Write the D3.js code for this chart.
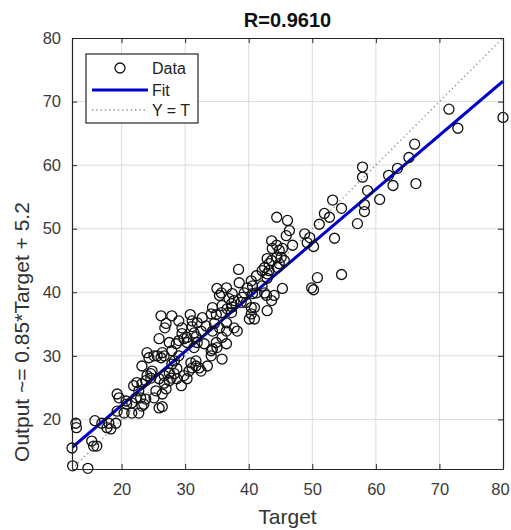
<!DOCTYPE html>
<html>
<head>
<meta charset="utf-8">
<script src="https://cdn.jsdelivr.net/npm/d3@7"></script>
<style>
  html, body { margin: 0; padding: 0; background: #fff; }
  svg { display: block; }
  text { font-family: "Liberation Sans", Arial, Helvetica, sans-serif; }
</style>
</head>
<body>
<div id="chart"></div>
<script>
// ---- data ----
const titleText = "R=0.9610";
const xLabel = "Target";
const yLabel = "Output ~= 0.85*Target + 5.2";
const xDomain = [12.2, 80];
const yDomain = [12.2, 80];
const xTicks = [20, 30, 40, 50, 60, 70, 80];
const yTicks = [20, 30, 40, 50, 60, 70, 80];
const fitSlope = 0.85;
const fitIntercept = 5.2;
const legendLabels = ["Data", "Fit", "Y = T"];

const targets = [
  80.0, 71.5, 72.9, 66.1, 65.2, 63.4, 62.0, 66.3, 62.7, 57.9, 57.9, 58.7, 60.6, 58.2, 58.2, 57.1,
  53.2, 54.6, 51.9, 52.7, 51.1, 53.5, 54.6, 50.8, 49.9, 50.2, 48.8, 49.6, 49.2, 50.2,
  44.4, 46.1, 46.4, 45.9, 43.6, 44.4, 43.7, 45.3, 46.9, 44.8, 45.1, 44.4, 42.9, 45.6, 43.2, 44.8,
  44.5, 42.5, 42.1, 43.2, 42.9, 42.9, 38.4, 41.2, 40.4, 40.6, 42.1, 41.2, 42.5, 44.0, 43.6, 42.9,
  45.3, 36.5, 35.7, 35.0, 37.4, 37.7, 36.9, 39.3, 39.0, 38.8, 39.6, 40.4, 40.4, 40.9, 40.1,
  35.8, 35.7, 36.6, 37.3, 34.3, 34.1, 34.9, 30.8, 31.1, 31.9, 32.7, 33.3, 34.6, 35.4, 34.3,
  36.5, 36.5, 37.7, 38.2, 29.5, 29.0, 35.4, 37.4, 26.2, 27.9, 27.0, 26.8, 31.1, 25.9, 27.5,
  24.0, 25.6, 26.4, 28.6, 29.0, 29.8, 30.3, 31.4, 31.7, 33.0, 34.9, 35.0, 34.1, 35.8, 31.7,
  31.1, 30.6, 29.8, 30.3, 32.2, 28.7, 28.3, 27.5, 26.7, 25.9, 24.8, 24.6, 23.8, 23.2, 22.4,
  21.9, 25.4, 25.1, 26.4, 27.0, 22.3, 21.6, 19.3, 19.6, 20.7, 20.8, 23.8, 23.5, 25.9, 26.4,
  12.2, 12.3, 14.7, 12.8, 12.9, 15.3, 15.6, 16.1, 15.8, 16.9, 17.7, 18.0, 18.3, 19.1, 19.3,
  20.4, 21.6, 23.0, 23.2, 22.7, 24.0, 24.6, 26.7, 27.8, 27.9, 23.2, 24.3, 25.1, 26.2, 26.7,
  32.5, 35.8, 36.5, 34.3, 34.1, 33.5, 29.5, 30.3, 31.9, 31.4, 27.9, 29.0, 28.3, 30.9, 31.7,
  32.5, 27.5, 28.7, 29.4, 22.7, 38.5, 39.8, 40.9, 37.3, 40.6, 42.8, 43.6
];
const outputs = [
  67.5, 68.8, 65.8, 63.3, 61.2, 59.5, 58.4, 57.1, 56.8, 59.7, 58.1, 56.0, 54.6, 53.8, 52.7, 50.8,
  54.5, 53.2, 52.4, 51.8, 50.7, 48.5, 42.8, 42.3, 40.7, 40.4, 49.2, 48.6, 47.8, 47.2,
  51.8, 51.3, 49.7, 48.9, 48.1, 47.4, 46.9, 46.9, 47.4, 46.6, 45.5, 45.5, 45.3, 45.0, 44.5, 44.5,
  43.9, 43.9, 43.4, 43.4, 42.9, 42.2, 43.6, 42.6, 41.8, 41.0, 41.0, 39.9, 39.9, 39.5, 38.7, 37.1,
  40.6, 40.7, 39.9, 40.6, 39.8, 38.7, 39.0, 39.9, 39.2, 38.4, 38.4, 37.6, 36.6, 35.8, 35.8,
  37.9, 36.8, 37.4, 36.8, 37.6, 36.6, 36.5, 36.5, 35.5, 35.2, 36.0, 34.7, 35.1, 34.4, 33.9,
  33.9, 35.2, 34.4, 33.9, 34.4, 35.5, 39.5, 37.7, 36.3, 36.3, 35.1, 34.4, 34.6, 32.7, 32.1,
  30.5, 30.0, 30.5, 31.9, 32.4, 32.7, 32.9, 33.6, 33.0, 31.9, 32.1, 31.3, 30.8, 29.5, 29.2,
  28.1, 27.6, 26.9, 26.4, 28.1, 28.0, 27.2, 27.3, 26.9, 26.4, 27.6, 26.5, 26.1, 25.6, 25.8,
  25.3, 24.5, 23.4, 24.0, 24.8, 23.4, 22.6, 24.0, 23.4, 22.9, 22.4, 23.2, 22.4, 21.8, 22.0,
  15.5, 12.7, 12.3, 19.4, 18.7, 16.6, 15.8, 15.8, 19.8, 19.4, 18.7, 19.4, 18.5, 19.4, 21.3,
  21.0, 21.0, 23.4, 22.1, 21.0, 26.9, 27.2, 25.7, 26.5, 28.7, 28.4, 29.7, 30.0, 29.7, 30.0,
  33.9, 32.9, 31.9, 31.1, 30.0, 28.4, 33.5, 32.1, 32.1, 31.3, 30.8, 30.0, 29.2, 28.9, 28.4,
  27.6, 26.1, 26.4, 25.3, 24.5, 41.5, 40.7, 37.6, 38.2, 39.8, 39.5, 45.0
];

// ---- layout ----
const W = 511, H = 530;
const margin = { left: 72, top: 38, right: 8, bottom: 61 };
const pw = W - margin.left - margin.right;
const ph = H - margin.top - margin.bottom;
const axisColor = "#262626";

const svg = d3.select("#chart").append("svg")
  .attr("width", W).attr("height", H);

const x = d3.scaleLinear().domain(xDomain).range([0, pw]);
const y = d3.scaleLinear().domain(yDomain).range([ph, 0]);

const g = svg.append("g").attr("transform", `translate(${margin.left},${margin.top})`);

svg.append("defs").append("clipPath").attr("id", "clip")
  .append("rect").attr("width", pw).attr("height", ph);

// grid
g.append("g").selectAll("line").data(xTicks.filter(t => t < xDomain[1])).join("line")
  .attr("x1", d => x(d)).attr("x2", d => x(d)).attr("y1", 0).attr("y2", ph)
  .attr("stroke", "#dcdcdc").attr("stroke-width", 1);
g.append("g").selectAll("line").data(yTicks.filter(t => t < yDomain[1])).join("line")
  .attr("y1", d => y(d)).attr("y2", d => y(d)).attr("x1", 0).attr("x2", pw)
  .attr("stroke", "#dcdcdc").attr("stroke-width", 1);

const plot = g.append("g").attr("clip-path", "url(#clip)");

// Y = T dotted line
const lo = Math.max(xDomain[0], yDomain[0]), hi = Math.min(xDomain[1], yDomain[1]);
plot.append("line")
  .attr("x1", x(lo)).attr("y1", y(lo)).attr("x2", x(hi)).attr("y2", y(hi))
  .attr("stroke", "#8a8a8a").attr("stroke-width", 1.3)
  .attr("stroke-dasharray", "1.3,3");

// data circles
const pts = targets.map((t, i) => ({ t, o: outputs[i] }));
g.append("g").selectAll("circle").data(pts).join("circle")
  .attr("cx", d => x(d.t)).attr("cy", d => y(d.o)).attr("r", 5)
  .attr("fill", "none").attr("stroke", "#111").attr("stroke-width", 1.3);

// fit line
plot.append("line")
  .attr("x1", x(xDomain[0])).attr("y1", y(fitSlope * xDomain[0] + fitIntercept))
  .attr("x2", x(xDomain[1])).attr("y2", y(fitSlope * xDomain[1] + fitIntercept))
  .attr("stroke", "#0000cc").attr("stroke-width", 3);

// axes (box with inward ticks on all sides)
const tickLen = 5;
const axB = d3.axisBottom(x).tickValues(xTicks).tickSizeInner(-tickLen).tickSizeOuter(0).tickPadding(14);
const axT = d3.axisTop(x).tickValues(xTicks).tickSizeInner(-tickLen).tickSizeOuter(0).tickFormat("");
const axL = d3.axisLeft(y).tickValues(yTicks).tickSizeInner(-tickLen).tickSizeOuter(0).tickPadding(11);
const axR = d3.axisRight(y).tickValues(yTicks).tickSizeInner(-tickLen).tickSizeOuter(0).tickFormat("");

function style(sel) {
  sel.select(".domain").attr("stroke", axisColor).attr("stroke-width", 1.2);
  sel.selectAll(".tick line").attr("stroke", axisColor).attr("stroke-width", 1);
  sel.selectAll(".tick text").attr("fill", "#3a3a3a")
    .style("font-size", "16.5px").style("font-family", "'Liberation Sans', Arial, sans-serif");
}
const gB = g.append("g").attr("transform", `translate(0,${ph})`).call(axB).call(style);
// keep the last x tick label inside the picture
gB.selectAll(".tick text").filter(d => d === xTicks[xTicks.length - 1]).attr("dx", "-3");
g.append("g").call(axT).call(style);
g.append("g").call(axL).call(style);
g.append("g").attr("transform", `translate(${pw},0)`).call(axR).call(style);

// title
svg.append("text")
  .attr("x", margin.left + pw / 2).attr("y", 27)
  .attr("text-anchor", "middle")
  .style("font-size", "20px").style("font-weight", "bold").attr("fill", "#111")
  .text(titleText);

// x label
svg.append("text")
  .attr("x", margin.left + pw / 2).attr("y", 524)
  .attr("text-anchor", "middle")
  .style("font-size", "21px").attr("fill", "#333")
  .text(xLabel);

// y label
svg.append("text")
  .attr("transform", `translate(29,332) rotate(-90)`)
  .attr("text-anchor", "middle")
  .style("font-size", "21px").attr("fill", "#333")
  .text(yLabel);

// legend
const lg = svg.append("g").attr("transform", "translate(86,54)");
lg.append("rect").attr("width", 112).attr("height", 69)
  .attr("fill", "#fff").attr("stroke", axisColor).attr("stroke-width", 1.2);
const rowY = [14, 36, 56];
lg.append("circle").attr("cx", 34).attr("cy", rowY[0]).attr("r", 5)
  .attr("fill", "none").attr("stroke", "#111").attr("stroke-width", 1.3);
lg.append("line").attr("x1", 6).attr("x2", 62).attr("y1", rowY[1]).attr("y2", rowY[1])
  .attr("stroke", "#0000cc").attr("stroke-width", 3);
lg.append("line").attr("x1", 6).attr("x2", 62).attr("y1", rowY[2]).attr("y2", rowY[2])
  .attr("stroke", "#8a8a8a").attr("stroke-width", 1.3).attr("stroke-dasharray", "1.3,3");
lg.selectAll("text.lab").data(legendLabels).join("text")
  .attr("x", 66).attr("y", (d, i) => rowY[i] + 5.5)
  .style("font-size", "16px").attr("fill", "#222")
  .text(d => d);
</script>
</body>
</html>
